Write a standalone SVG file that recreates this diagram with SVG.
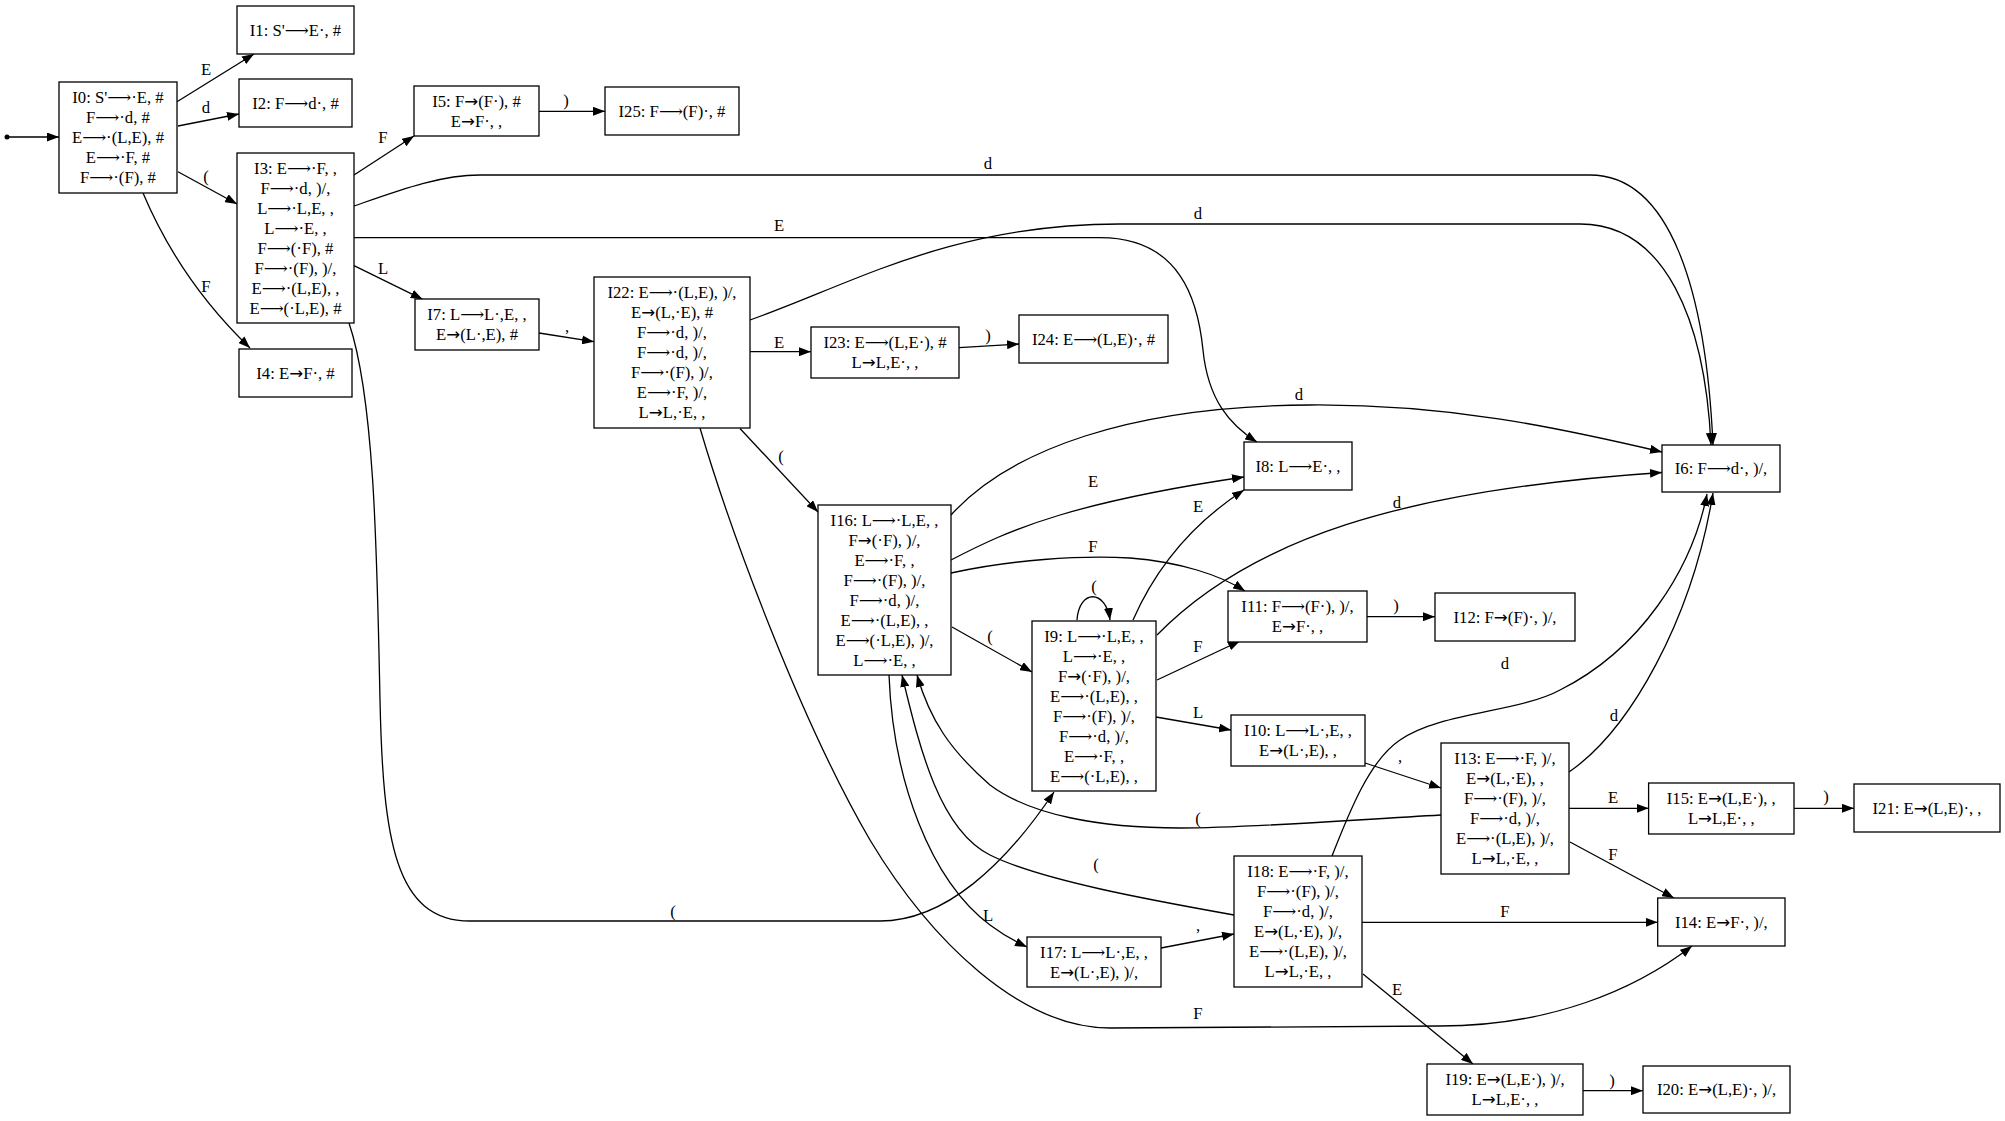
<svg xmlns="http://www.w3.org/2000/svg" width="2005" height="1121" viewBox="0 0 2005 1121">
<style>
text{font-family:"Liberation Serif","DejaVu Serif",serif;font-size:16.7px;text-anchor:middle;fill:#000}
.a{font-family:"DejaVu Sans",sans-serif}
.n rect{fill:#fff;stroke:#000;stroke-width:1.3}
.e path{fill:none;stroke:#000;stroke-width:1.3;marker-end:url(#ah)}
</style>
<defs>
<marker id="ah" markerWidth="13" markerHeight="9" refX="12" refY="4.5" orient="auto" markerUnits="userSpaceOnUse"><path d="M0,0 L12,4.5 L0,9 z" fill="#000"/></marker>
</defs>
<rect width="2005" height="1121" fill="#fff"/>
<g id="connectors" class="e">
<circle cx="7" cy="137" r="2.5" fill="#000"/>
<path d="M7,137 L59,137"/>
<path d="M177,101.7 L254,54"/>
<path d="M178,126 L239,114"/>
<path d="M178,171.7 L237,204"/>
<path d="M143,193 C165,245 200,300 250,348"/>
<path d="M354,175 L414,136"/>
<path d="M354,206 C400,190 440,175 480,175 L1590,175 C1670,175 1706,290 1713,445"/>
<path d="M354,237.6 L1100,237.6 C1180,237.6 1198,300 1203,350 C1208,400 1230,425 1257,442"/>
<path d="M354,265.7 L422.7,299.3"/>
<path d="M349,323 C375,400 377,560 380,700 C383,840 395,921 470,921 L880,921 C945,921 1005,865 1054,792"/>
<path d="M539,111.3 L605,111.3"/>
<path d="M539,333 L594,341.7"/>
<path d="M750,351.7 L811,351.7"/>
<path d="M959,347.7 L1019,344"/>
<path d="M750,320 C850,285 950,224 1120,224 L1580,224 C1665,224 1705,320 1711,445"/>
<path d="M740,428.5 L818,512"/>
<path d="M700,428 C730,530 800,720 870,840 C930,940 1020,1028 1110,1028 L1440,1026 C1550,1026 1635,990 1692,946"/>
<path d="M951,515 C1010,450 1130,406 1310,405 C1450,404 1560,428 1662,452"/>
<path d="M951,560 C980,545 1010,530 1060,515 C1120,497 1190,485 1244,477"/>
<path d="M951,573 C1010,560 1080,555 1130,558 C1180,562 1220,575 1245,591"/>
<path d="M952,627 L1032,672"/>
<path d="M889,675 C893,780 930,880 990,925 C1002,934 1014,941 1027,947"/>
<path d="M1077,620 C1079,589 1106,589 1110,620"/>
<path d="M1133,620 C1155,570 1190,525 1244,490"/>
<path d="M1157,635 C1250,540 1400,490 1662,472.5"/>
<path d="M1157,680 L1240,641"/>
<path d="M1156,717 L1231,730"/>
<path d="M1365,763 L1441,788"/>
<path d="M1367,616.7 L1435,616.7"/>
<path d="M1569,772 C1630,730 1692,620 1713,493"/>
<path d="M1569,808.3 L1648.6,808.3"/>
<path d="M1794,808.3 L1854,808.3"/>
<path d="M1570,842 L1674,898"/>
<path d="M1441,815 C1350,820 1250,828 1180,828 C1100,828 1030,815 990,785 C950,750 930,720 917,675"/>
<path d="M1234,915 C1150,900 1040,880 990,855 C940,830 920,750 902,675"/>
<path d="M1332,856 C1350,810 1370,760 1400,740 C1440,712 1520,712 1560,690 C1640,650 1692,570 1707,494"/>
<path d="M1362,922.3 L1657.7,922.3"/>
<path d="M1363,974 L1473,1064"/>
<path d="M1583,1090.7 L1643,1090.7"/>
<path d="M1161,948 L1234,934"/>
<g id="edge-labels">
<text x="206" y="75">E</text>
<text x="206" y="113">d</text>
<text x="206" y="182">(</text>
<text x="206" y="292">F</text>
<text x="383" y="143">F</text>
<text x="988" y="169">d</text>
<text x="779" y="231">E</text>
<text x="383" y="274">L</text>
<text x="673" y="917">(</text>
<text x="566" y="106">)</text>
<text x="567" y="332">,</text>
<text x="779" y="348">E</text>
<text x="988" y="341">)</text>
<text x="1198" y="219">d</text>
<text x="781" y="462">(</text>
<text x="1198" y="1019">F</text>
<text x="1299" y="400">d</text>
<text x="1093" y="487">E</text>
<text x="1093" y="552">F</text>
<text x="990" y="642">(</text>
<text x="988" y="921">L</text>
<text x="1094" y="592">(</text>
<text x="1198" y="512">E</text>
<text x="1397" y="508">d</text>
<text x="1198" y="652">F</text>
<text x="1198" y="718">L</text>
<text x="1400" y="762">,</text>
<text x="1396" y="611">)</text>
<text x="1614" y="721">d</text>
<text x="1613" y="803">E</text>
<text x="1826" y="802">)</text>
<text x="1613" y="860">F</text>
<text x="1198" y="824">(</text>
<text x="1096" y="870">(</text>
<text x="1505" y="669">d</text>
<text x="1505" y="917">F</text>
<text x="1397" y="995">E</text>
<text x="1612" y="1086">)</text>
<text x="1198" y="931">,</text>
</g>
</g>
<g id="I0" class="n"><rect x="59" y="82" width="118" height="111"/><text><tspan x="118" y="103">I0: S'⟶·E, #</tspan><tspan x="118" y="123">F⟶·d, #</tspan><tspan x="118" y="143">E⟶·(L,E), #</tspan><tspan x="118" y="163">E⟶·F, #</tspan><tspan x="118" y="183">F⟶·(F), #</tspan></text></g>
<g id="I1" class="n"><rect x="237" y="6" width="117" height="48"/><text x="295.5" y="35.5">I1: S'⟶E·, #</text></g>
<g id="I2" class="n"><rect x="239" y="79" width="113" height="48"/><text x="295.5" y="108.5">I2: F⟶d·, #</text></g>
<g id="I3" class="n"><rect x="237" y="153" width="117" height="170"/><text><tspan x="295.5" y="173.5">I3: E⟶·F, ,</tspan><tspan x="295.5" y="193.5">F⟶·d, )/,</tspan><tspan x="295.5" y="213.5">L⟶·L,E, ,</tspan><tspan x="295.5" y="233.5">L⟶·E, ,</tspan><tspan x="295.5" y="253.5">F⟶(·F), #</tspan><tspan x="295.5" y="273.5">F⟶·(F), )/,</tspan><tspan x="295.5" y="293.5">E⟶·(L,E), ,</tspan><tspan x="295.5" y="313.5">E⟶(·L,E), #</tspan></text></g>
<g id="I4" class="n"><rect x="239" y="349" width="113" height="48"/><text x="295.5" y="378.5">I4: E<tspan class="a">→</tspan>F·, #</text></g>
<g id="I5" class="n"><rect x="414" y="86" width="125" height="50"/><text><tspan x="476.5" y="106.5">I5: F<tspan class="a">→</tspan>(F·), #</tspan><tspan x="476.5" y="126.5">E<tspan class="a">→</tspan>F·, ,</tspan></text></g>
<g id="I25" class="n"><rect x="605" y="87" width="134" height="48"/><text x="672" y="116.5">I25: F⟶(F)·, #</text></g>
<g id="I7" class="n"><rect x="415" y="299" width="124" height="51"/><text><tspan x="477" y="320">I7: L⟶L·,E, ,</tspan><tspan x="477" y="340">E<tspan class="a">→</tspan>(L·,E), #</tspan></text></g>
<g id="I22" class="n"><rect x="594" y="277" width="156" height="151"/><text><tspan x="672" y="298">I22: E⟶·(L,E), )/,</tspan><tspan x="672" y="318">E<tspan class="a">→</tspan>(L,·E), #</tspan><tspan x="672" y="338">F⟶·d, )/,</tspan><tspan x="672" y="358">F⟶·d, )/,</tspan><tspan x="672" y="378">F⟶·(F), )/,</tspan><tspan x="672" y="398">E⟶·F, )/,</tspan><tspan x="672" y="418">L<tspan class="a">→</tspan>L,·E, ,</tspan></text></g>
<g id="I23" class="n"><rect x="811" y="327" width="148" height="51"/><text><tspan x="885" y="348">I23: E⟶(L,E·), #</tspan><tspan x="885" y="368">L<tspan class="a">→</tspan>L,E·, ,</tspan></text></g>
<g id="I24" class="n"><rect x="1019" y="315" width="149" height="48"/><text x="1093.5" y="344.5">I24: E⟶(L,E)·, #</text></g>
<g id="I16" class="n"><rect x="818" y="505" width="133" height="170"/><text><tspan x="884.5" y="525.5">I16: L⟶·L,E, ,</tspan><tspan x="884.5" y="545.5">F<tspan class="a">→</tspan>(·F), )/,</tspan><tspan x="884.5" y="565.5">E⟶·F, ,</tspan><tspan x="884.5" y="585.5">F⟶·(F), )/,</tspan><tspan x="884.5" y="605.5">F⟶·d, )/,</tspan><tspan x="884.5" y="625.5">E⟶·(L,E), ,</tspan><tspan x="884.5" y="645.5">E⟶(·L,E), )/,</tspan><tspan x="884.5" y="665.5">L⟶·E, ,</tspan></text></g>
<g id="I9" class="n"><rect x="1032" y="621" width="124" height="170"/><text><tspan x="1094" y="641.5">I9: L⟶·L,E, ,</tspan><tspan x="1094" y="661.5">L⟶·E, ,</tspan><tspan x="1094" y="681.5">F<tspan class="a">→</tspan>(·F), )/,</tspan><tspan x="1094" y="701.5">E⟶·(L,E), ,</tspan><tspan x="1094" y="721.5">F⟶·(F), )/,</tspan><tspan x="1094" y="741.5">F⟶·d, )/,</tspan><tspan x="1094" y="761.5">E⟶·F, ,</tspan><tspan x="1094" y="781.5">E⟶(·L,E), ,</tspan></text></g>
<g id="I8" class="n"><rect x="1244" y="442" width="108" height="48"/><text x="1298" y="471.5">I8: L⟶E·, ,</text></g>
<g id="I11" class="n"><rect x="1228" y="591" width="139" height="51"/><text><tspan x="1297.5" y="612">I11: F⟶(F·), )/,</tspan><tspan x="1297.5" y="632">E<tspan class="a">→</tspan>F·, ,</tspan></text></g>
<g id="I12" class="n"><rect x="1435" y="593" width="140" height="48"/><text x="1505" y="622.5">I12: F<tspan class="a">→</tspan>(F)·, )/,</text></g>
<g id="I10" class="n"><rect x="1231" y="715" width="134" height="51"/><text><tspan x="1298" y="736">I10: L⟶L·,E, ,</tspan><tspan x="1298" y="756">E<tspan class="a">→</tspan>(L·,E), ,</tspan></text></g>
<g id="I6" class="n"><rect x="1662" y="445" width="118" height="47"/><text x="1721" y="474">I6: F⟶d·, )/,</text></g>
<g id="I13" class="n"><rect x="1441" y="743" width="128" height="131"/><text><tspan x="1505" y="764">I13: E⟶·F, )/,</tspan><tspan x="1505" y="784">E<tspan class="a">→</tspan>(L,·E), ,</tspan><tspan x="1505" y="804">F⟶·(F), )/,</tspan><tspan x="1505" y="824">F⟶·d, )/,</tspan><tspan x="1505" y="844">E⟶·(L,E), )/,</tspan><tspan x="1505" y="864">L<tspan class="a">→</tspan>L,·E, ,</tspan></text></g>
<g id="I15" class="n"><rect x="1648.6" y="783" width="145.4" height="51"/><text><tspan x="1721.3" y="804">I15: E<tspan class="a">→</tspan>(L,E·), ,</tspan><tspan x="1721.3" y="824">L<tspan class="a">→</tspan>L,E·, ,</tspan></text></g>
<g id="I21" class="n"><rect x="1854" y="784" width="146" height="48"/><text x="1927" y="813.5">I21: E<tspan class="a">→</tspan>(L,E)·, ,</text></g>
<g id="I14" class="n"><rect x="1657.7" y="898" width="127.3" height="48"/><text x="1721.3" y="927.5">I14: E<tspan class="a">→</tspan>F·, )/,</text></g>
<g id="I17" class="n"><rect x="1027" y="937" width="134" height="50"/><text><tspan x="1094" y="957.5">I17: L⟶L·,E, ,</tspan><tspan x="1094" y="977.5">E<tspan class="a">→</tspan>(L·,E), )/,</tspan></text></g>
<g id="I18" class="n"><rect x="1234" y="856" width="128" height="131"/><text><tspan x="1298" y="877">I18: E⟶·F, )/,</tspan><tspan x="1298" y="897">F⟶·(F), )/,</tspan><tspan x="1298" y="917">F⟶·d, )/,</tspan><tspan x="1298" y="937">E<tspan class="a">→</tspan>(L,·E), )/,</tspan><tspan x="1298" y="957">E⟶·(L,E), )/,</tspan><tspan x="1298" y="977">L<tspan class="a">→</tspan>L,·E, ,</tspan></text></g>
<g id="I19" class="n"><rect x="1427" y="1064" width="156" height="51"/><text><tspan x="1505" y="1085">I19: E<tspan class="a">→</tspan>(L,E·), )/,</tspan><tspan x="1505" y="1105">L<tspan class="a">→</tspan>L,E·, ,</tspan></text></g>
<g id="I20" class="n"><rect x="1643" y="1066" width="147" height="47"/><text x="1716.5" y="1095">I20: E<tspan class="a">→</tspan>(L,E)·, )/,</text></g>
</svg>
